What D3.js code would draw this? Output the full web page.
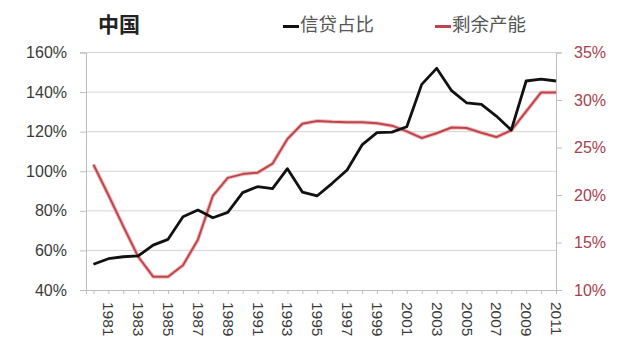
<!DOCTYPE html>
<html>
<head>
<meta charset="utf-8">
<script src="https://cdn.jsdelivr.net/npm/d3@7"></script>
<style>
  html, body { margin: 0; padding: 0; background: #fff; }
  svg { display: block; }
</style>
</head>
<body>
<svg id="chart" width="640" height="346"></svg>
<script>
const years = d3.range(1980, 2012);
// 信贷占比 (left axis, %)
const creditRatio = [53.0, 55.8, 56.8, 57.2, 62.7, 65.6, 77.0, 80.4, 76.5, 79.2,
  89.2, 92.2, 91.2, 101.3, 89.5, 87.6, 93.9, 100.6, 113.3, 119.5,
  119.8, 122.5, 143.9, 152.0, 140.7, 134.6, 133.8, 127.9, 120.8, 145.6,
  146.6, 145.6];
// 剩余产能 (right axis, %)
const surplusCapacity = [23.2, 20.0, 16.7, 13.5, 11.4, 11.4, 12.6, 15.3, 19.9, 21.8,
  22.2, 22.35, 23.3, 25.9, 27.5, 27.8, 27.7, 27.65, 27.65, 27.55,
  27.3, 26.7, 26.0, 26.5, 27.1, 27.05, 26.55, 26.1, 26.8, 28.8,
  30.8, 30.8];
const leftTicks = [40, 60, 80, 100, 120, 140, 160];
const rightTicks = [10, 15, 20, 25, 30, 35];
const xTickLabels = years.filter(y => y % 2 === 1);
const seriesNames = ["信贷占比", "剩余产能"];
const title = "中国";

(function () {
const svg = d3.select("#chart");
const pLeft = 86, pRight = 556, pTop = 52.5, pBottom = 290;

const x = d3.scaleLinear().domain([1979.5, 2011]).range([pLeft, pRight]);
const yL = d3.scaleLinear().domain([40, 160]).range([pBottom, pTop]);
const yR = d3.scaleLinear().domain([10, 35]).range([pBottom, pTop]);

const font = "'Liberation Sans', Arial, sans-serif";
const gridColor = "#d4d4d4";
const axisColor = "#bdbdbd";
const redLine = "#c0444c";
const redText = "#a8404c";

// gridlines
svg.append("g").selectAll("line").data(leftTicks.filter(d => d !== 40)).join("line")
  .attr("x1", pLeft).attr("x2", pRight)
  .attr("y1", d => yL(d)).attr("y2", d => yL(d))
  .attr("stroke", gridColor).attr("stroke-width", 1);

// left axis
const gL = svg.append("g").attr("transform", `translate(${pLeft},0)`)
  .call(d3.axisLeft(yL).tickValues(leftTicks).tickFormat(d => d + "%").tickSize(6).tickPadding(13));
gL.select(".domain").attr("stroke", axisColor);
gL.selectAll(".tick line").attr("stroke", axisColor);
gL.selectAll("text").attr("font-family", font).attr("font-size", 16).attr("fill", "#3a3a3a");

// right axis
const gR = svg.append("g").attr("transform", `translate(${pRight},0)`)
  .call(d3.axisRight(yR).tickValues(rightTicks).tickFormat(d => d + "%").tickSize(6).tickPadding(12));
gR.select(".domain").attr("stroke", axisColor);
gR.selectAll(".tick line").attr("stroke", axisColor);
gR.selectAll("text").attr("font-family", font).attr("font-size", 16).attr("fill", redText);

// bottom axis
const gB = svg.append("g").attr("transform", `translate(0,${pBottom})`)
  .call(d3.axisBottom(x).tickValues(years).tickFormat(d => (xTickLabels.includes(d) ? String(d) : "")).tickSize(4));
gB.select(".domain").attr("stroke", axisColor);
gB.selectAll(".tick line").attr("stroke", axisColor);
gB.selectAll("text")
  .attr("font-family", font).attr("font-size", 15.5).attr("fill", "#3a3a3a")
  .attr("transform", "rotate(90)")
  .attr("text-anchor", "start")
  .attr("x", 12).attr("y", 0).attr("dy", "0.35em").attr("dx", 0);

// lines
const lineL = d3.line().x((d, i) => x(years[i])).y(d => yL(d));
const lineR = d3.line().x((d, i) => x(years[i])).y(d => yR(d));

svg.append("path").datum(surplusCapacity).attr("d", lineR)
  .attr("fill", "none").attr("stroke", "#eab0b0").attr("stroke-width", 4).attr("stroke-linejoin", "round").attr("opacity", 0.8);
svg.append("path").datum(surplusCapacity).attr("d", lineR)
  .attr("fill", "none").attr("stroke", redLine).attr("stroke-width", 2).attr("stroke-linejoin", "round");
svg.append("path").datum(creditRatio).attr("d", lineL)
  .attr("fill", "none").attr("stroke", "#111").attr("stroke-width", 2.8).attr("stroke-linejoin", "round");

// title
svg.append("text").attr("x", 98).attr("y", 32).text(title)
  .attr("font-family", "'Noto Sans CJK SC', sans-serif").attr("font-size", 21).attr("font-weight", "bold").attr("fill", "#222");

// legend
const legend = [
  { name: seriesNames[0], color: "#111", x0: 283 },
  { name: seriesNames[1], color: redLine, x0: 435 }
];
const lg = svg.append("g").selectAll("g").data(legend).join("g");
lg.append("line").attr("x1", d => d.x0).attr("x2", d => d.x0 + 16)
  .attr("y1", 26.5).attr("y2", 26.5).attr("stroke", d => d.color).attr("stroke-width", 3);
lg.append("text").attr("x", d => d.x0 + 17).attr("y", 31).text(d => d.name)
  .attr("font-family", "'Noto Sans CJK SC', sans-serif").attr("font-size", 18.5).attr("fill", "#555");
})();
</script>
</body>
</html>
